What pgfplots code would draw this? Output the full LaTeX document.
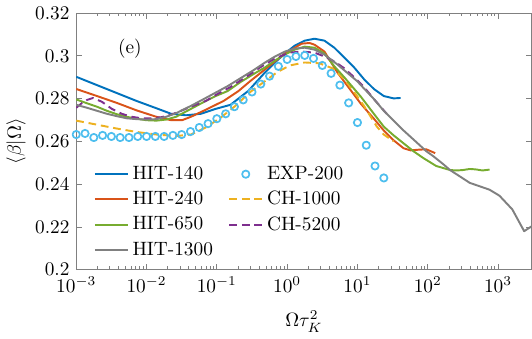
\documentclass[border=0pt]{standalone}
\usepackage{pgfplots}
\pgfplotsset{compat=1.18}
\definecolor{cA}{RGB}{0,114,189}
\definecolor{cB}{RGB}{217,83,25}
\definecolor{cC}{RGB}{119,172,48}
\definecolor{cD}{RGB}{128,128,128}
\definecolor{cE}{RGB}{77,190,238}
\definecolor{cF}{RGB}{237,177,32}
\definecolor{cG}{RGB}{126,47,142}
\begin{document}
\begin{tikzpicture}
\begin{axis}[
  scale only axis, width=236pt, height=133pt,
  xmode=log, xmin=1e-3, xmax=3000, ymin=0.2, ymax=0.32,
  ytick={0.2,0.22,0.24,0.26,0.28,0.3,0.32},
  yticklabels={0.2,0.22,0.24,0.26,0.28,0.3,0.32},
  xtick={1e-3,1e-2,1e-1,1,10,100,1000},
  tick align=inside, major tick length=3pt, minor tick length=1.7pt,
  axis line style={black!50}, every tick/.style={black!50, line width=0.4pt},
  xlabel={$\Omega\tau_K^2$}, ylabel={$\langle\beta|\Omega\rangle$},
  xlabel style={yshift=-3pt}, ylabel style={yshift=-2pt},
  legend columns=2,
  legend style={at={(0.025,0.435)}, anchor=north west, draw=none, fill=none,
    row sep=0.6pt, /tikz/every even column/.append style={column sep=6pt}},
  legend cell align=left,
  line join=round,
]
% HIT-140
\addplot[cA, line width=1pt] coordinates {
(0.001,0.2902) (0.001974,0.2863) (0.003773,0.2826) (0.007211,0.2789) (0.01378,0.2755)
(0.0224,0.2729) (0.0364,0.2722) (0.05918,0.2729) (0.09619,0.2752) (0.1563,0.2771)
(0.2801,0.2836) (0.4858,0.2923) (0.6714,0.2969) (0.9283,0.3011) (1.2834,0.3048)
(1.7743,0.3071) (2.453,0.3080) (3.391,0.3071) (4.688,0.3038) (6.479,0.2992)
(8.957,0.2946) (12.38,0.2891) (17.12,0.2845) (23.67,0.2812) (32.72,0.2801) (41.05,0.2803)
};
\addlegendentry{HIT-140}
% EXP-200
\addplot[only marks, mark=o, mark size=1.9pt, mark options={cE, line width=0.9pt}] coordinates {
(0.001,0.2632) (0.001334,0.2637) (0.001778,0.2618) (0.002371,0.2628) (0.003162,0.2623)
(0.004217,0.2618) (0.005623,0.2618) (0.007499,0.2623) (0.01,0.2623) (0.01334,0.2623)
(0.01778,0.2623) (0.02371,0.2628) (0.03162,0.2632) (0.04217,0.2646) (0.05623,0.2665)
(0.07499,0.2683) (0.1,0.2706) (0.1334,0.2729) (0.1778,0.2762) (0.2371,0.2794)
(0.3162,0.2831) (0.4217,0.2868) (0.5623,0.2905) (0.7499,0.2951) (1.0,0.2983)
(1.334,0.2997) (1.778,0.3002) (2.371,0.2988) (3.162,0.2955) (4.217,0.2918)
(5.623,0.2863) (7.499,0.2780) (10.0,0.2688) (13.34,0.2582) (17.78,0.2485) (23.71,0.2429)
};
\addlegendentry{EXP-200}
% HIT-240
\addplot[cB, line width=1pt] coordinates {
(0.001,0.2845) (0.001974,0.2812) (0.003773,0.2780) (0.007211,0.2745) (0.01378,0.2715)
(0.0224,0.2699) (0.03198,0.2699) (0.0428,0.2715) (0.06958,0.2748) (0.1246,0.2789)
(0.2025,0.2835) (0.2988,0.2882) (0.4858,0.2937) (0.6714,0.2974) (0.9283,0.3011)
(1.2834,0.3038) (1.6098,0.3057) (2.086,0.3060) (2.453,0.3052) (3.391,0.3020)
(5.167,0.2923) (7.618,0.2849) (11.23,0.2775) (17.12,0.2706) (23.67,0.2651)
(32.72,0.2605) (45.23,0.2568) (56.75,0.2558) (73.53,0.2561) (95.3,0.2563) (127.5,0.2545)
};
\addlegendentry{HIT-240}
% CH-1000
\addplot[cF, line width=1pt, dash pattern=on 4pt off 2.5pt] coordinates {
(0.001,0.2697) (0.001974,0.2678) (0.003773,0.2660) (0.007211,0.2644) (0.01378,0.2632)
(0.02634,0.2625) (0.0428,0.2632) (0.06958,0.2665) (0.1131,0.2711) (0.1838,0.2766)
(0.2988,0.2831) (0.4858,0.2882) (0.7164,0.2923) (1.0915,0.2955) (1.7743,0.2969)
(2.884,0.2965) (4.393,0.2942) (6.479,0.2891) (8.957,0.2831) (12.38,0.2766)
(18.87,0.2669) (23.67,0.2632) (32.72,0.2600)
};
\addlegendentry{CH-1000}
% HIT-650
\addplot[cC, line width=1pt] coordinates {
(0.001,0.2796) (0.001428,0.2778) (0.001974,0.2762) (0.002729,0.2743) (0.003773,0.2727)
(0.005216,0.2715) (0.007211,0.2706) (0.009968,0.2699) (0.01378,0.2697) (0.01905,0.2702)
(0.02634,0.2715) (0.0428,0.2752) (0.06958,0.2789) (0.09619,0.2812) (0.1418,0.2835)
(0.2161,0.2877) (0.3293,0.2914) (0.4858,0.2946) (0.6714,0.2978) (0.9283,0.3006)
(1.2834,0.3029) (1.7743,0.3043) (2.453,0.3038) (3.391,0.3011) (4.688,0.2951)
(6.479,0.2900) (11.23,0.2808) (17.12,0.2729) (23.67,0.2669) (32.72,0.2628)
(45.23,0.2591) (62.54,0.2554) (86.45,0.2522) (131.7,0.2485) (207.3,0.2466)
(260,0.2464) (315.7,0.2466) (396.1,0.2471) (481.0,0.2469) (600,0.2464) (756.8,0.2468)
};
\addlegendentry{HIT-650}
% CH-5200
\addplot[cG, line width=1pt, dash pattern=on 4pt off 2.5pt] coordinates {
(0.001,0.2757) (0.001214,0.2780) (0.001428,0.2794) (0.001734,0.2803) (0.002321,0.2785)
(0.003209,0.2752) (0.004436,0.2729) (0.006132,0.2715) (0.008479,0.2708) (0.01172,0.2708)
(0.0162,0.2713) (0.0224,0.2725) (0.03097,0.2743) (0.0428,0.2762) (0.06958,0.2789)
(0.1026,0.2822) (0.1563,0.2854) (0.2711,0.2905) (0.4131,0.2946) (0.6714,0.2988)
(1.0915,0.3015) (1.6098,0.3020) (2.453,0.3015) (3.391,0.2997) (4.688,0.2974)
(6.479,0.2942) (8.957,0.2900) (12.38,0.2854) (17.12,0.2798) (26.09,0.2729)
};
\addlegendentry{CH-5200}
% HIT-1300
\addplot[cD, line width=1pt] coordinates {
(0.001,0.2771) (0.001428,0.2757) (0.001974,0.2743) (0.002729,0.2729) (0.003773,0.2718)
(0.005216,0.2708) (0.007211,0.2704) (0.009968,0.2702) (0.01378,0.2704) (0.01905,0.2715)
(0.02634,0.2732) (0.0428,0.2766) (0.06958,0.2803) (0.09619,0.2828) (0.1418,0.2858)
(0.2161,0.2895) (0.3293,0.2932) (0.4858,0.2969) (0.6714,0.2997) (0.9283,0.3020)
(1.2834,0.3034) (1.7743,0.3038) (2.453,0.3029) (3.391,0.3006) (5.167,0.2960)
(9.872,0.2882) (17.12,0.2798) (23.67,0.2743) (32.72,0.2697) (45.23,0.2651)
(62.54,0.2609) (95.3,0.2554) (119.5,0.2531) (165.2,0.2494) (207.3,0.2466)
(396.1,0.2406) (756.8,0.2374) (1046,0.2346) (1594,0.2282) (2351,0.2180) (3000,0.2203)
};
\addlegendentry{HIT-1300}
\node at (axis cs:0.0058,0.3035) {(e)};
\end{axis}
\end{tikzpicture}
\end{document}
